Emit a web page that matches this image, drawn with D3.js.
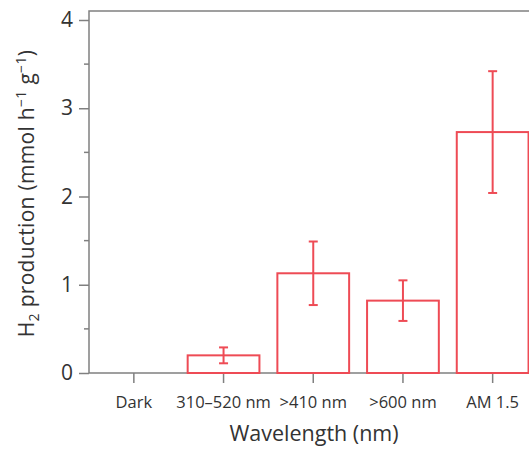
<!DOCTYPE html>
<html><head><meta charset="utf-8">
<script src="https://cdn.jsdelivr.net/npm/d3@7"></script>
<style>body{margin:0;background:#fff}svg{display:block}text{font-family:"Open Sans",sans-serif;fill:#333}</style>
</head><body>
<svg id="c" width="529" height="449"></svg>
<script>
const categories = ["Dark", "310–520 nm", ">410 nm", ">600 nm", "AM 1.5"];
const values = [0, 0.20, 1.13, 0.82, 2.73];
const errors = [0, 0.09, 0.36, 0.23, 0.69];
const yTicks = [0, 1, 2, 3, 4];
const yMinorTicks = [0.5, 1.5, 2.5, 3.5];

(function () {
const svg = d3.select("#c");
const red = "#ee4b55", axisCol = "#808080";
const mLeft = 89, mBottom = 373, mTop = 20, frameTop = 11, rightEdge = 537.5;

const x = d3.scaleBand().domain(categories).range([mLeft, rightEdge]).paddingInner(0.2).paddingOuter(0.1);
const y = d3.scaleLinear().domain([0, 4]).range([mBottom, mTop]);

// frame
svg.append("path").attr("d", `M${rightEdge+20},${frameTop}H${mLeft}V${mBottom}H${rightEdge+20}`)
  .attr("fill", "none").attr("stroke", axisCol).attr("stroke-width", 1.5);

// y axis
const yAxis = svg.append("g").attr("transform", `translate(${mLeft},0)`)
  .call(d3.axisLeft(y).tickValues(yTicks).tickFormat(d3.format("d")).tickSize(10).tickPadding(6));
yAxis.select(".domain").remove();
yAxis.selectAll("line").attr("stroke", axisCol).attr("stroke-width", 1.5);
yAxis.selectAll("text").attr("font-size", 21).attr("fill", "#333").attr("font-family", "'Open Sans',sans-serif");
svg.append("g").selectAll("line").data(yMinorTicks).join("line")
  .attr("x1", mLeft - 5).attr("x2", mLeft).attr("y1", d => y(d)).attr("y2", d => y(d))
  .attr("stroke", axisCol).attr("stroke-width", 1.5);

// x axis
const xAxis = svg.append("g").attr("transform", `translate(0,${mBottom})`)
  .call(d3.axisBottom(x).tickSize(10).tickPadding(13));
xAxis.select(".domain").remove();
xAxis.selectAll("line").attr("stroke", axisCol).attr("stroke-width", 1.5);
xAxis.selectAll("text").attr("font-size", 16.5).attr("fill", "#333").attr("font-family", "'Open Sans',sans-serif");

// bars
const data = categories.map((c, i) => ({c, v: values[i], e: errors[i]})).filter(d => d.v > 0);
svg.append("g").selectAll("rect").data(data).join("rect")
  .attr("x", d => x(d.c)).attr("width", x.bandwidth())
  .attr("y", d => y(d.v)).attr("height", d => y(0) - y(d.v))
  .attr("fill", "none").attr("stroke", red).attr("stroke-width", 2);

// error bars
const eb = svg.append("g").attr("stroke", red).attr("stroke-width", 2);
data.forEach(d => {
  const cx = x(d.c) + x.bandwidth() / 2;
  eb.append("line").attr("x1", cx).attr("x2", cx).attr("y1", y(d.v + d.e)).attr("y2", y(d.v - d.e));
  eb.append("line").attr("x1", cx - 4.5).attr("x2", cx + 4.5).attr("y1", y(d.v + d.e)).attr("y2", y(d.v + d.e));
  eb.append("line").attr("x1", cx - 4.5).attr("x2", cx + 4.5).attr("y1", y(d.v - d.e)).attr("y2", y(d.v - d.e));
});

// axis titles
svg.append("text").attr("x", 314).attr("y", 441).attr("text-anchor", "middle")
  .attr("font-size", 21.5).text("Wavelength (nm)");

const yt = svg.append("text").attr("transform", `translate(34,${(mTop + mBottom) / 2 - 3}) rotate(-90)`)
  .attr("text-anchor", "middle").attr("font-size", 21).attr("letter-spacing", 0.3);
yt.append("tspan").text("H");
yt.append("tspan").attr("font-size", 14).attr("dy", 5).text("2");
yt.append("tspan").attr("dy", -5).text(" production (mmol h");
yt.append("tspan").attr("font-size", 14).attr("dy", -8).text("−1");
yt.append("tspan").attr("dy", 8).text(" g");
yt.append("tspan").attr("font-size", 14).attr("dy", -8).text("−1");
yt.append("tspan").attr("dy", 8).text(")");
})();
</script>
</body></html>
